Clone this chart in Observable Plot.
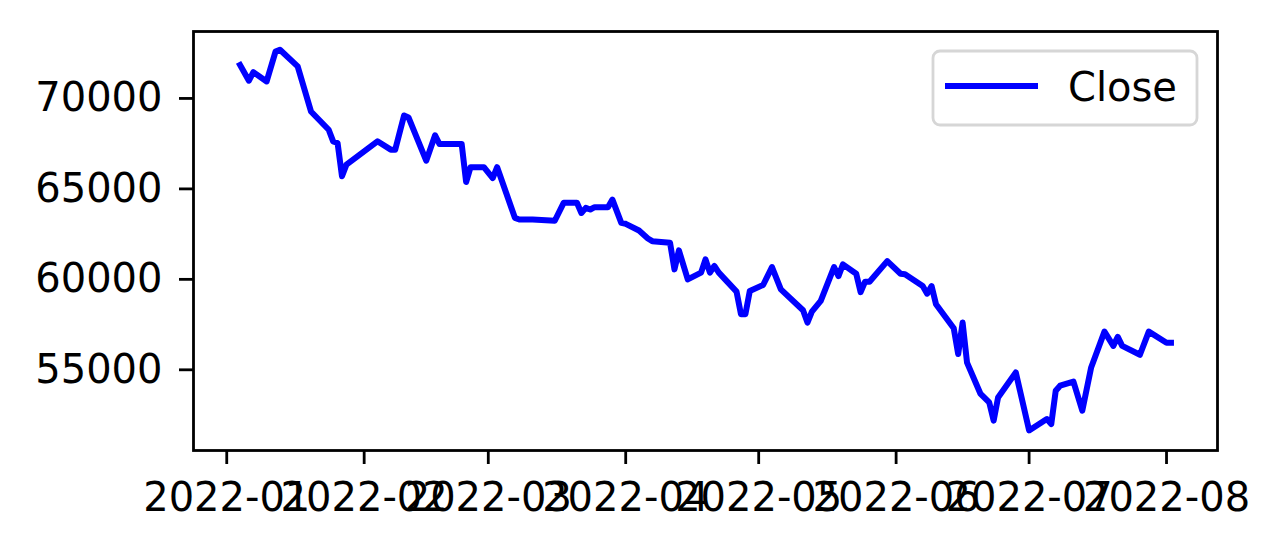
<!DOCTYPE html>
<html>
<head>
<meta charset="utf-8">
<script src="https://cdn.jsdelivr.net/npm/d3@7"></script>
<script src="https://cdn.jsdelivr.net/npm/@observablehq/plot@0.6"></script>
<style>
  html, body { margin: 0; padding: 0; background: white; }
  #wrap { position: relative; width: 1283px; height: 551px; }
  #legend { position: absolute; left: 0; top: 0; pointer-events: none; }
</style>
</head>
<body>
<div id="wrap"></div>
<script>
// Dates of visible vertices of the "Close" series
const dates = [
  "2022-01-04","2022-01-06","2022-01-07","2022-01-10","2022-01-12","2022-01-13","2022-01-17","2022-01-20",
  "2022-01-24","2022-01-25","2022-01-26","2022-01-27","2022-01-28","2022-02-04","2022-02-07","2022-02-08",
  "2022-02-10","2022-02-11","2022-02-15","2022-02-17","2022-02-18","2022-02-23","2022-02-24","2022-02-25",
  "2022-02-28","2022-03-02","2022-03-03","2022-03-07","2022-03-08","2022-03-11","2022-03-16","2022-03-18",
  "2022-03-21","2022-03-22","2022-03-23","2022-03-24","2022-03-25","2022-03-28","2022-03-29","2022-03-31",
  "2022-04-01","2022-04-04","2022-04-06","2022-04-07","2022-04-11","2022-04-12","2022-04-13","2022-04-15",
  "2022-04-18","2022-04-19","2022-04-20","2022-04-21","2022-04-22","2022-04-26","2022-04-27","2022-04-28",
  "2022-04-29","2022-05-02","2022-05-04","2022-05-06","2022-05-11","2022-05-12","2022-05-13","2022-05-15",
  "2022-05-18","2022-05-19","2022-05-20","2022-05-23","2022-05-24","2022-05-25","2022-05-26","2022-05-30",
  "2022-06-02","2022-06-03","2022-06-07","2022-06-08","2022-06-09","2022-06-10","2022-06-14","2022-06-15",
  "2022-06-16","2022-06-17","2022-06-20","2022-06-22","2022-06-23","2022-06-24","2022-06-28","2022-07-01",
  "2022-07-05","2022-07-06","2022-07-07","2022-07-08","2022-07-11","2022-07-13","2022-07-15","2022-07-18",
  "2022-07-20","2022-07-21","2022-07-22","2022-07-26","2022-07-28","2022-08-01","2022-08-02"
];
const closes = [
  71850,70980,71450,70940,72590,72690,71770,69280,
  68270,67630,67540,65700,66340,67630,67170,67170,
  69060,68950,66560,67960,67480,67480,65380,66200,
  66200,65600,66200,63400,63310,63310,63240,64230,
  64230,63670,63950,63860,63990,63990,64410,63120,
  63070,62700,62260,62110,62020,60550,61600,60000,
  60370,61100,60370,60740,60370,59320,58070,58070,
  59360,59690,60680,59450,58290,57610,58220,58810,
  60680,60180,60830,60310,59290,59870,59870,61010,
  60310,60280,59630,59210,59630,58620,57300,55870,
  57610,55400,53690,53200,52190,53470,54850,51650,
  52280,52000,53840,54120,54350,52740,55130,57110,
  56320,56820,56320,55830,57110,56500,56500
];
const seriesName = "Close";
const xTickLabels = ["2022-01","2022-02","2022-03","2022-04","2022-05","2022-06","2022-07","2022-08"];
const yTicks = [55000, 60000, 65000, 70000];

const data = dates.map((d, i) => ({date: new Date(d + "T00:00:00Z"), close: closes[i]}));
const monthTicks = xTickLabels.map(s => new Date(s + "-01T00:00:00Z"));

// matplotlib-like 5% margins around the data extent
const [t0, t1] = d3.extent(data, d => +d.date);
const pad = (t1 - t0) * 0.05;

const chart = Plot.plot({
  width: 1283,
  height: 551,
  marginLeft: 193,
  marginRight: 66,
  marginTop: 31,
  marginBottom: 101,
  style: {fontFamily: "'DejaVu Sans', sans-serif", fontSize: "40px", background: "white", color: "black"},
  x: {type: "utc", domain: [new Date(t0 - pad), new Date(t1 + pad)]},
  y: {domain: [50540, 73700]},
  marks: [
    Plot.line(data, {x: "date", y: "close", stroke: "#0000ff", strokeWidth: 6,
      strokeLinejoin: "round", strokeLinecap: "square"}),
    Plot.frame({stroke: "black", strokeWidth: 2.8}),
    Plot.axisX({ticks: monthTicks, tickFormat: d3.utcFormat("%Y-%m"), tickSize: 14, tickPadding: 18,
      fontSize: 40, strokeWidth: 2.8, label: null}),
    Plot.axisY({ticks: yTicks, tickFormat: d3.format("d"), tickSize: 14, tickPadding: 17,
      fontSize: 40, strokeWidth: 2.8, label: null})
  ]
});
const wrap = document.getElementById("wrap");
wrap.appendChild(chart);

// Legend box (upper right, inside the axes)
const ns = "http://www.w3.org/2000/svg";
const leg = document.createElementNS(ns, "svg");
leg.setAttribute("id", "legend");
leg.setAttribute("width", 1283);
leg.setAttribute("height", 551);
leg.innerHTML = `
  <rect x="933" y="51" width="264" height="74" rx="7" ry="7" fill="white" fill-opacity="0.8" stroke="#d6d6d6" stroke-width="2.8"/>
  <line x1="948" x2="1035" y1="86" y2="86" stroke="#0000ff" stroke-width="6" stroke-linecap="square"/>
  <text x="1068" y="101" font-family="DejaVu Sans, sans-serif" font-size="40" fill="black">${seriesName}</text>`;
wrap.appendChild(leg);
</script>
</body>
</html>
